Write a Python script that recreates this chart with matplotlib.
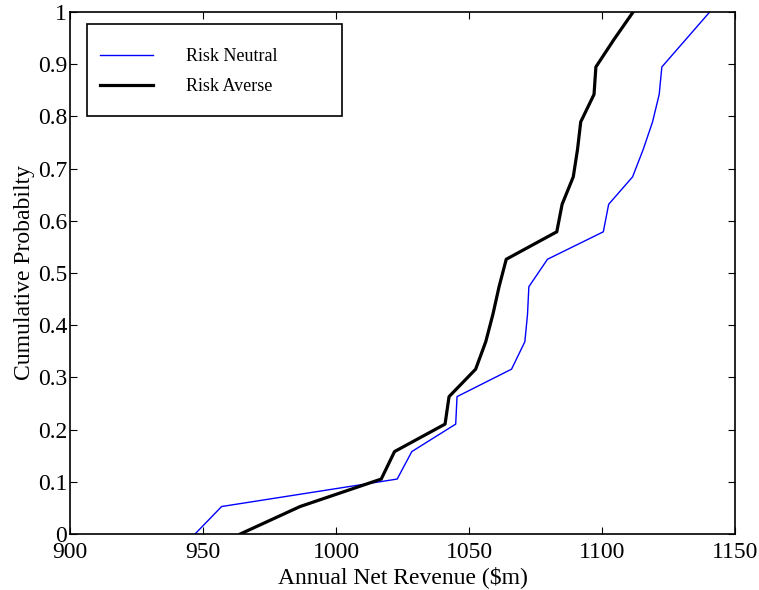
import matplotlib
matplotlib.use('Agg')
import matplotlib.pyplot as plt
from matplotlib.patches import Rectangle
import numpy as np

# cumulative probability levels (k/19)
prob = np.arange(20) / 19.0

# annual net revenue ($m)
risk_neutral = [947, 957, 1023, 1028.5, 1045, 1045.5, 1066, 1071, 1072, 1072.5,
                1079.5, 1100.5, 1102.5, 1111.5, 1115.5, 1119, 1121.5, 1122.5, 1131.5, 1140.5]
risk_averse = [964, 986.5, 1017, 1022, 1041, 1042.5, 1052.5, 1056.3, 1059, 1061.3,
               1064, 1083, 1085, 1089.2, 1090.8, 1092, 1097, 1097.7, 1104.5, 1111.7]

xticks = [900, 950, 1000, 1050, 1100, 1150]
yticks = [0, 0.1, 0.2, 0.3, 0.4, 0.5, 0.6, 0.7, 0.8, 0.9, 1]
ytick_labels = ['0', '0.1', '0.2', '0.3', '0.4', '0.5', '0.6', '0.7', '0.8', '0.9', '1']

plt.rcParams['font.family'] = ['Liberation Serif', 'DejaVu Serif']

fig = plt.figure(figsize=(7.59, 5.90), dpi=100)
ax = fig.add_axes([70 / 759, 1 - 534 / 590, 665 / 759, 522 / 590])

ax.plot(risk_neutral, prob, color='#0000ff', lw=1.0, label='Risk Neutral')
ax.plot(risk_averse, prob, color='black', lw=2.3, label='Risk Averse')

ax.set_xlim(900, 1150)
ax.set_ylim(0, 1)
ax.set_xticks(xticks)
ax.set_yticks(yticks)
ax.set_yticklabels(ytick_labels)
ax.tick_params(direction='in', top=True, right=True, length=5, width=0.8,
               labelsize=17)
ax.tick_params(axis='x', pad=6)
ax.tick_params(axis='y', pad=2)
for s in ax.spines.values():
    s.set_linewidth(1.2)

ax.set_xlabel('Annual Net Revenue ($m)', fontsize=17, labelpad=2)
ax.set_ylabel('Cumulative Probabilty', fontsize=17)
ax.yaxis.set_label_coords(-0.053, 0.5)

# legend box (MATLAB style, wider than its contents)
ax.add_patch(Rectangle((17 / 665, 418 / 522), 255 / 665, 92 / 522, transform=ax.transAxes,
                       facecolor='white', edgecolor='black', lw=1.2, zorder=4))
leg = ax.legend(loc='upper left', bbox_to_anchor=(30 / 665, 1 - 36 / 522), frameon=False,
                fontsize=13, handlelength=2.95, handletextpad=1.8,
                labelspacing=0.72, borderpad=0, borderaxespad=0)
leg.set_zorder(5)

plt.savefig('out.png', dpi=100)
